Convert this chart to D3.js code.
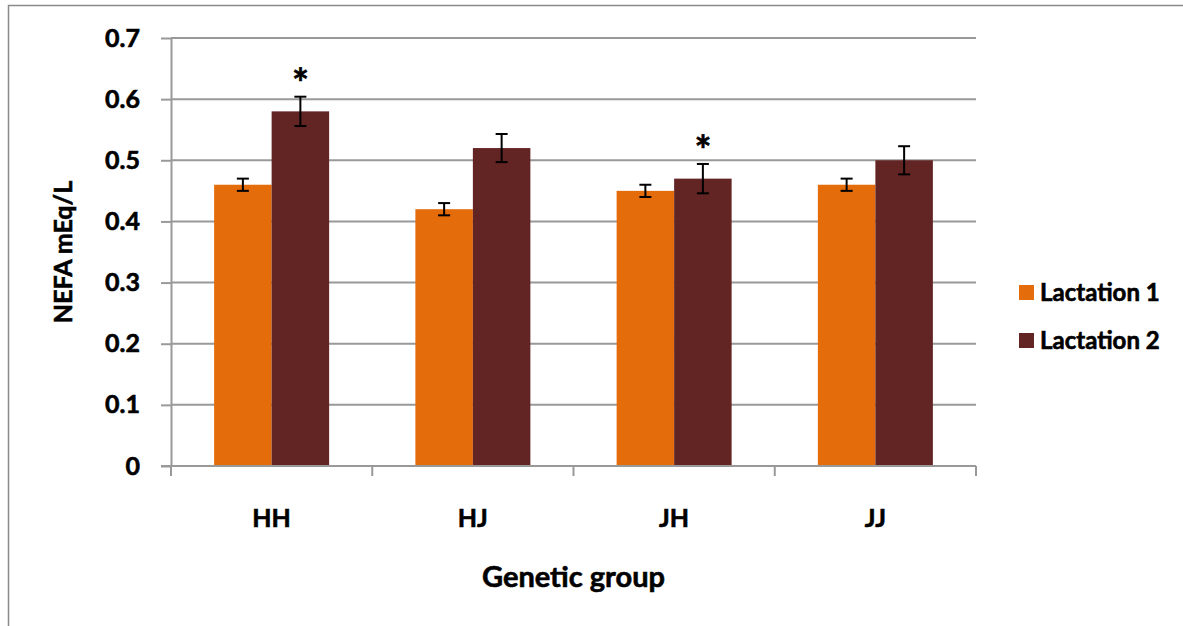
<!DOCTYPE html>
<html>
<head>
<meta charset="utf-8">
<script src="https://cdn.jsdelivr.net/npm/d3@7"></script>
<style>
  body { margin: 0; background: #fff; }
  text { font-family: Lato, "Open Sans", sans-serif; font-weight: bold; fill: #000;
         stroke: #000; stroke-width: 0.6px; }
</style>
</head>
<body>
<div id="chart"></div>
<script>
var groups = ["HH", "HJ", "JH", "JJ"];
var seriesNames = ["Lactation 1", "Lactation 2"];
var lact1 = [0.46, 0.42, 0.45, 0.46];
var lact2 = [0.58, 0.52, 0.47, 0.50];
var err1 = [0.01, 0.01, 0.01, 0.01];
var err2 = [0.024, 0.023, 0.024, 0.023];
var starred = [true, false, true, false]; // asterisk over lactation 2 bar
var yTicks = [0, 0.1, 0.2, 0.3, 0.4, 0.5, 0.6, 0.7];
var colors = ["#E46C0A", "#632523"];

var svgWidth = 1183;
var svgHeight = 626;
var margin = { top: 38, right: 207, bottom: 160, left: 171 };
var width = svgWidth - margin.left - margin.right;
var height = svgHeight - margin.top - margin.bottom;

var svg = d3.select("#chart")
  .append("svg")
  .attr("width", svgWidth)
  .attr("height", svgHeight);

// outer chart border (only top and left visible in the picture)
svg.append("rect")
  .attr("x", 8.5).attr("y", 5.5)
  .attr("width", 1190).attr("height", 640)
  .attr("fill", "none")
  .attr("stroke", "#8a8a8a")
  .attr("stroke-width", 1.5);

var chartGroup = svg.append("g")
  .attr("transform", `translate(${margin.left}, ${margin.top})`);

var x0 = d3.scaleBand().domain(groups).range([0, width]);
var x1 = d3.scaleBand().domain(seriesNames)
  .range([0, x0.bandwidth()])
  .paddingOuter(0.75);
var y = d3.scaleLinear().domain([0, 0.7]).range([height, 0]);

// gridlines
chartGroup.append("g")
  .selectAll("line")
  .data(yTicks.slice(1))
  .enter()
  .append("line")
  .attr("x1", 0).attr("x2", width)
  .attr("y1", d => y(d)).attr("y2", d => y(d))
  .attr("stroke", "#999")
  .attr("stroke-width", 2);

var rows = groups.map((g, i) => ({
  group: g, i: i,
  vals: [
    { s: seriesNames[0], v: lact1[i], e: err1[i], c: colors[0] },
    { s: seriesNames[1], v: lact2[i], e: err2[i], c: colors[1] }
  ]
}));

var groupSel = chartGroup.append("g")
  .selectAll("g")
  .data(rows)
  .enter()
  .append("g")
  .attr("transform", d => `translate(${x0(d.group)}, 0)`);

groupSel.selectAll("rect")
  .data(d => d.vals)
  .enter()
  .append("rect")
  .attr("x", d => x1(d.s))
  .attr("width", x1.bandwidth())
  .attr("y", d => y(d.v))
  .attr("height", d => height - y(d.v))
  .attr("fill", d => d.c);

// error bars
var errSel = groupSel.selectAll("g.err")
  .data(d => d.vals)
  .enter()
  .append("g")
  .attr("class", "err")
  .attr("stroke", "#000")
  .attr("stroke-width", 2);

errSel.append("line")
  .attr("x1", d => x1(d.s) + x1.bandwidth() / 2)
  .attr("x2", d => x1(d.s) + x1.bandwidth() / 2)
  .attr("y1", d => y(d.v + d.e))
  .attr("y2", d => y(d.v - d.e));
[1, -1].forEach(function(sign) {
  errSel.append("line")
    .attr("x1", d => x1(d.s) + x1.bandwidth() / 2 - 6)
    .attr("x2", d => x1(d.s) + x1.bandwidth() / 2 + 6)
    .attr("y1", d => y(d.v + sign * d.e))
    .attr("y2", d => y(d.v + sign * d.e));
});

// asterisks
groupSel.filter(d => starred[d.i])
  .append("text")
  .attr("x", x1(seriesNames[1]) + x1.bandwidth() / 2)
  .attr("y", d => y(lact2[d.i] + err2[d.i]) + 1)
  .attr("text-anchor", "middle")
  .style("font-size", "40px")
  .text("*");

// axes
var leftAxis = d3.axisLeft(y).tickValues(yTicks).tickSize(10).tickSizeOuter(0)
  .tickFormat(d => d === 0 ? "0" : d3.format(".1f")(d));
var yAxis = chartGroup.append("g").call(leftAxis);
yAxis.select(".domain").attr("stroke", "#999").attr("stroke-width", 2);
yAxis.selectAll(".tick line").attr("stroke", "#999").attr("stroke-width", 2);
yAxis.selectAll(".tick text")
  .attr("x", -31)
  .style("font-size", "25px")
  .style("font-family", "Lato, sans-serif");

var xAxis = chartGroup.append("g")
  .attr("transform", `translate(0, ${height})`);
xAxis.append("line")
  .attr("x1", -10).attr("x2", width)
  .attr("stroke", "#999").attr("stroke-width", 2);
xAxis.selectAll("line.tk")
  .data(d3.range(groups.length + 1))
  .enter()
  .append("line")
  .attr("class", "tk")
  .attr("x1", d => d * x0.bandwidth()).attr("x2", d => d * x0.bandwidth())
  .attr("y1", 0).attr("y2", 10)
  .attr("stroke", "#999").attr("stroke-width", 2);
xAxis.selectAll("text")
  .data(groups)
  .enter()
  .append("text")
  .attr("x", d => x0(d) + x0.bandwidth() / 2)
  .attr("y", 61)
  .attr("text-anchor", "middle")
  .style("font-size", "25px")
  .text(d => d);

// axis titles
svg.append("text")
  .attr("x", margin.left + width / 2)
  .attr("y", 587)
  .attr("text-anchor", "middle")
  .style("font-size", "29px")
  .text("Genetic group");

svg.append("text")
  .attr("transform", `translate(72, 252) rotate(-90)`)
  .attr("text-anchor", "middle")
  .style("font-size", "25px")
  .text("NEFA mEq/L");

// legend
var legend = svg.append("g")
  .attr("transform", "translate(1019, 285)");
var legendItem = legend.selectAll("g")
  .data(seriesNames)
  .enter()
  .append("g")
  .attr("transform", (d, i) => `translate(0, ${i * 48})`);
legendItem.append("rect")
  .attr("width", 15).attr("height", 15)
  .attr("fill", (d, i) => colors[i]);
legendItem.append("text")
  .attr("x", 21)
  .attr("y", 16)
  .style("font-size", "24px")
  .text(d => d);
</script>
</body>
</html>
